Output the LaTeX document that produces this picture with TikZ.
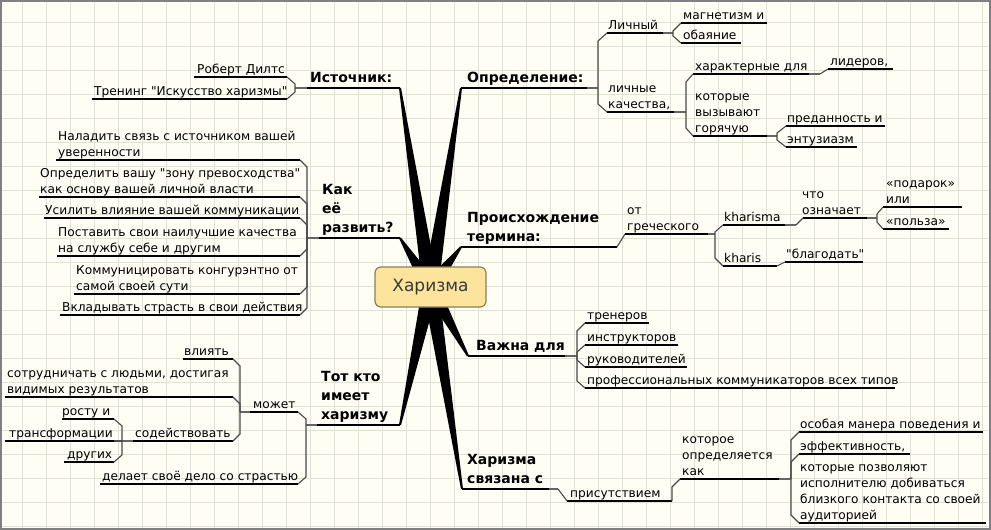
\documentclass[tikz,border=0pt]{standalone}
\usepackage{fontspec}
\setmainfont{DejaVu Sans}[Ligatures=TeXOff]
\usetikzlibrary{calc,backgrounds}
\definecolor{bgc}{HTML}{FEFEF4}
\definecolor{gridv}{HTML}{DFE0D8}
\definecolor{gridh}{HTML}{DCE4D4}
\definecolor{framec}{HTML}{808080}
\definecolor{rootfill}{HTML}{FCE49C}
\definecolor{rootdraw}{HTML}{8E7F55}
\definecolor{brkc}{HTML}{4A4A4A}
\newcommand\leaffont{\fontsize{12.2}{16}\selectfont}
\newcommand\topfont{\fontsize{14}{19}\selectfont\bfseries}
\tikzset{
  leaf/.style={inner sep=0pt, align=left, anchor=south west, font=\leaffont, yshift=-1.3pt},
  mtopic/.style={inner sep=0pt, align=left, anchor=south west, font=\topfont, yshift=-0.2pt},
  uline/.style={draw=black, line width=1.2pt},
  bracket/.style={draw=brkc, line width=1.1pt},
  stubline/.style={draw=brkc!85!white, line width=2.2pt},
  spoke/.style={fill=black, draw=none},
  gline/.style={line width=1pt},
}
\newcommand\UL[4]{\coordinate (#1-l) at (#2,#4); \coordinate (#1-r) at (#3,#4);}
\newcommand\TX[5]{\node[#2] (#1) at (#3,#4) {#5\strut};}
\newcommand\BR[3]{\draw[bracket] (#1) -- ($(#1 |- #2)+(0,#3)$) -- (#2);}
\newcommand\SPOKE[1]{\fill[spoke] ($(root.center)!8pt!90:(#1)$) -- ($(#1)!1pt!-90:(root.center)$) -- ($(#1)!1pt!90:(root.center)$) -- ($(root.center)!8pt!-90:(#1)$) -- cycle;}
\begin{document}
\begin{tikzpicture}[x=1pt,y=-1pt]
\useasboundingbox (0,0) rectangle (991,530);
\begin{scope}[on background layer]
  \fill[bgc] (0,0) rectangle (991,530);
  \foreach \x in {22,46,...,982} \draw[gridv,gline] (\x,0) -- (\x,530);
  \foreach \y in {22,46,...,526} \draw[gridh,gline] (0,\y) -- (991,\y);
\end{scope}

% root
\node[draw=rootdraw, fill=rootfill, rounded corners=6pt, line width=1.2pt,
      minimum width=111pt, minimum height=40pt, inner sep=0pt,
      font=\fontsize{17}{20}\selectfont, text=black!78] (root) at (430.5,287) {Харизма};

% underline coordinates
\UL{ist}{307}{400}{88}
\UL{rd}{194}{287}{77}
\UL{tr}{92}{287}{99}
\UL{kak}{319}{400}{238}
\UL{ca}{56}{300}{160}
\UL{cb}{39}{300}{197}
\UL{cc}{44}{300}{218}
\UL{cd}{57}{300}{256}
\UL{ce}{74}{300}{294}
\UL{cf}{60}{300}{315}
\UL{tot}{317}{400}{425}
\UL{mo}{250}{298}{412}
\UL{de}{100}{298}{484}
\UL{vl}{183}{233}{359}
\UL{so}{5}{233}{397}
\UL{sd}{133}{233}{441}
\UL{ro}{62}{114}{419}
\UL{tf}{5}{114}{441}
\UL{dr}{64}{114}{462}
\UL{opr}{461}{587}{88}
\UL{li}{607}{663}{33}
\UL{mg}{681}{767}{23}
\UL{ob}{681}{741}{43}
\UL{lk}{607}{674}{112}
\UL{hd}{693}{809}{74}
\UL{ld}{828}{893}{69}
\UL{kv}{693}{767}{136}
\UL{pr}{786}{885}{126}
\UL{en}{786}{857}{147}
\UL{pro}{461}{617}{247}
\UL{og}{625}{708}{234}
\UL{ka}{723}{785}{225}
\UL{cz}{803}{867}{218}
\UL{pd}{883}{962}{207}
\UL{pz}{883}{949}{229}
\UL{kh}{723}{777}{266}
\UL{bl}{785}{863}{262}
\UL{vaj}{468}{565}{356}
\UL{ta}{585}{649}{323}
\UL{tb}{585}{678}{345}
\UL{tc}{585}{687}{367}
\UL{td}{585}{895}{388}
\UL{hs}{462}{549}{489}
\UL{pri}{567}{672}{501}
\UL{ko}{680}{779}{479}
\UL{om}{799}{983}{432}
\UL{ef}{799}{910}{454}
\UL{kp}{799}{986}{523}

% bracket points
\coordinate (ist-b) at (295,88);
\coordinate (kak-b) at (307,238);
\coordinate (tot-b) at (306,425);
\coordinate (mo-b) at (240,412);
\coordinate (sd-b) at (122,441);
\coordinate (opr-b) at (598,88);
\coordinate (li-b) at (673,33);
\coordinate (lk-b) at (686,112);
\coordinate (hd-b) at (820,74);
\coordinate (kv-b) at (777,136);
\coordinate (og-b) at (715,234);
\coordinate (ka-b) at (796,225);
\coordinate (cz-b) at (877,218);
\coordinate (vaj-b) at (577,356);
\coordinate (hs-b) at (558,489);
\coordinate (ko-b) at (791,479);

% spokes
\begin{scope}[on background layer]
  \foreach \t in {ist-r,kak-r,tot-r,opr-l,pro-l,vaj-l,hs-l} {\SPOKE{\t}}
\end{scope}

% underlines
\foreach \n in {ist,rd,tr,kak,ca,cb,cc,cd,ce,cf,tot,mo,de,vl,so,sd,ro,tf,dr,
  opr,li,mg,ob,lk,hd,ld,kv,pr,en,pro,og,ka,cz,pd,pz,kh,bl,vaj,ta,tb,tc,td,hs,pri,ko,om,ef,kp}
  {\draw[uline] (\n-l) -- (\n-r);}

% stubs
\draw[stubline] (ist-l) -- (ist-b);
\draw[stubline] (kak-l) -- (kak-b);
\draw[stubline] (tot-l) -- (tot-b);
\draw[stubline] (mo-l) -- (mo-b);
\draw[stubline] (sd-l) -- (sd-b);
\draw[stubline] (opr-r) -- (opr-b);
\draw[stubline] (li-r) -- (li-b);
\draw[stubline] (lk-r) -- (lk-b);
\draw[stubline] (hd-r) -- (hd-b);
\draw[stubline] (kv-r) -- (kv-b);
\draw[stubline] (og-r) -- (og-b);
\draw[stubline] (ka-r) -- (ka-b);
\draw[stubline] (cz-r) -- (cz-b);
\draw[stubline] (vaj-r) -- (vaj-b);
\draw[stubline] (hs-r) -- (hs-b);
\draw[stubline] (ko-r) -- (ko-b);

% brackets
\BR{ist-b}{rd-r}{7} \BR{ist-b}{tr-r}{-7}
\BR{kak-b}{ca-r}{7} \BR{kak-b}{cb-r}{7} \BR{kak-b}{cc-r}{7}
\BR{kak-b}{cd-r}{-7} \BR{kak-b}{ce-r}{-7} \BR{kak-b}{cf-r}{-7}
\BR{tot-b}{mo-r}{7} \BR{tot-b}{de-r}{-7}
\BR{mo-b}{vl-r}{7} \BR{mo-b}{so-r}{7} \BR{mo-b}{sd-r}{-7}
\BR{sd-b}{ro-r}{7} \BR{sd-b}{tf-r}{0} \BR{sd-b}{dr-r}{-7}
\BR{opr-b}{li-l}{8} \BR{opr-b}{lk-l}{-8}
\BR{li-b}{mg-l}{8} \BR{li-b}{ob-l}{-7}
\BR{lk-b}{hd-l}{8} \BR{lk-b}{kv-l}{-8}
\BR{hd-b}{ld-l}{5}
\BR{kv-b}{pr-l}{7} \BR{kv-b}{en-l}{-7}
\draw[bracket] (pro-r) -- (og-l);
\BR{og-b}{ka-l}{7} \BR{og-b}{kh-l}{-8}
\BR{ka-b}{cz-l}{7}
\BR{cz-b}{pd-l}{7} \BR{cz-b}{pz-l}{-7}
\draw[bracket] (kh-r) -- (bl-l);
\BR{vaj-b}{ta-l}{8} \BR{vaj-b}{tb-l}{7} \BR{vaj-b}{tc-l}{-7} \BR{vaj-b}{td-l}{-7}
\draw[bracket] (hs-b) -- (pri-l);
\BR{pri-r}{ko-l}{8}
\BR{ko-b}{om-l}{8} \BR{ko-b}{ef-l}{8} \BR{ko-b}{kp-l}{-8}

% texts
\TX{istT}{mtopic}{310}{88}{Источник:}
\TX{rdT}{leaf}{197}{77}{Роберт Дилтс}
\TX{trT}{leaf}{94}{99}{Тренинг "Искусство харизмы"}
\TX{kakT}{mtopic}{322}{238}{Как\\её\\развить?}
\TX{caT}{leaf}{58}{160}{Наладить связь с источником вашей\\уверенности}
\TX{cbT}{leaf}{40}{197}{Определить вашу "зону превосходства"\\как основу вашей личной власти}
\TX{ccT}{leaf}{45}{218}{Усилить влияние вашей коммуникации}
\TX{cdT}{leaf}{58}{256}{Поставить свои наилучшие качества\\на службу себе и другим}
\TX{ceT}{leaf}{76}{294}{Коммуницировать конгурэнтно от\\самой своей сути}
\TX{cfT}{leaf}{62}{315}{Вкладывать страсть в свои действия}
\TX{totT}{mtopic}{321}{425}{Тот кто\\имеет\\харизму}
\TX{moT}{leaf}{253}{412}{может}
\TX{deT}{leaf}{102}{484}{делает своё дело со страстью}
\TX{vlT}{leaf}{184}{359}{влиять}
\TX{soT}{leaf}{7}{397}{сотрудничать с людьми, достигая\\видимых результатов}
\TX{sdT}{leaf}{135}{441}{содействовать}
\TX{roT}{leaf}{62}{419}{росту и}
\TX{tfT}{leaf}{9}{441}{трансформации}
\TX{drT}{leaf}{67}{462}{других}
\TX{oprT}{mtopic}{467}{88}{Определение:}
\TX{liT}{leaf}{608}{33}{Личный}
\TX{mgT}{leaf}{683}{23}{магнетизм и}
\TX{obT}{leaf}{683}{43}{обаяние}
\TX{lkT}{leaf}{608}{112}{личные\\качества,}
\TX{hdT}{leaf}{695}{74}{характерные для}
\TX{ldT}{leaf}{830}{69}{лидеров,}
\TX{kvT}{leaf}{695}{136}{которые\\вызывают\\горячую}
\TX{prT}{leaf}{787}{126}{преданность и}
\TX{enT}{leaf}{787}{147}{энтузиазм}
\TX{proT}{mtopic}{467}{247}{Происхождение\\термина:}
\TX{ogT}{leaf}{627}{234}{от\\греческого}
\TX{kaT}{leaf}{724}{225}{kharisma}
\TX{czT}{leaf}{802}{218}{что\\означает}
\TX{pdT}{leaf}{886}{207}{«подарок»\\или}
\TX{pzT}{leaf}{886}{229}{«польза»}
\TX{khT}{leaf}{724}{266}{kharis}
\TX{blT}{leaf}{786}{262}{"благодать"}
\TX{vajT}{mtopic}{476}{356}{Важна для}
\TX{taT}{leaf}{587}{323}{тренеров}
\TX{tbT}{leaf}{587}{345}{инструкторов}
\TX{tcT}{leaf}{587}{367}{руководителей}
\TX{tdT}{leaf}{587}{388}{профессиональных коммуникаторов всех типов}
\TX{hsT}{mtopic}{467}{489}{Харизма\\связана с}
\TX{priT}{leaf}{570}{501}{присутствием}
\TX{koT}{leaf}{682}{479}{которое\\определяется\\как}
\TX{omT}{leaf}{800}{432}{особая манера поведения и}
\TX{efT}{leaf}{800}{454}{эффективность,}
\TX{kpT}{leaf}{800}{523}{которые позволяют\\исполнителю добиваться\\близкого контакта со своей\\аудиторией}

% frame
\draw[framec, line width=2pt] (1,1) rectangle (990,529);
\end{tikzpicture}
\end{document}
